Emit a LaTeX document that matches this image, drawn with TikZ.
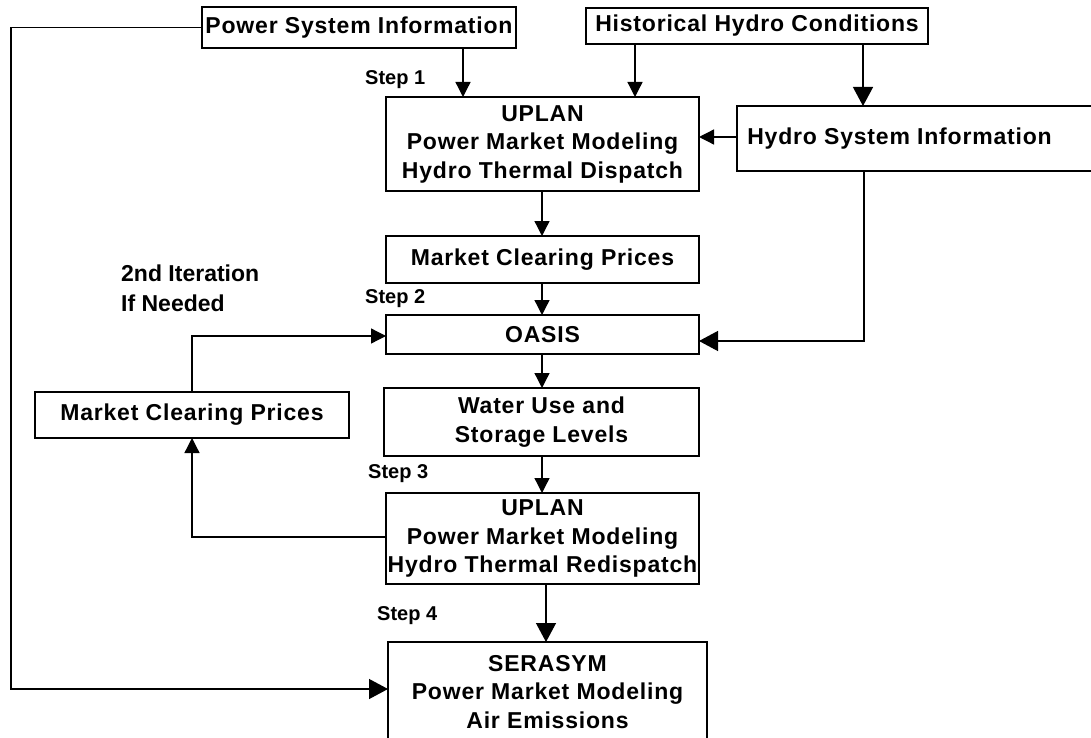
\documentclass[tikz,border=0pt]{standalone}
\usepackage{fontspec}
\setmainfont{Liberation Sans}
\newfontfamily\boxfont[LetterSpace=3.5]{Liberation Sans}
\usetikzlibrary{arrows.meta}
\begin{document}
\begin{tikzpicture}[x=1pt,y=-1pt,
  box/.style={draw,line width=1.8pt,rectangle,inner sep=0pt,outer sep=0pt,align=center,
    font=\boxfont\bfseries\fontsize{23}{28.5}\selectfont},
  conn/.style={line width=1.3pt},
  arrS/.style={conn,-{Triangle[length=15pt,width=15pt]}},
  arrL/.style={conn,-{Triangle[length=19pt,width=20pt]}},
  lbl/.style={font=\bfseries\fontsize{20}{24}\selectfont,inner sep=0pt},
  note/.style={font=\bfseries\fontsize{23}{30}\selectfont,inner sep=0pt,align=left},
]
\useasboundingbox (0,0) rectangle (1091,738);
\node[box,minimum width=314pt,minimum height=41pt] (psi) at (359,27.5) {Power System Information};
\node[box,minimum width=342pt,minimum height=36pt] (hhc) at (757,26) {Historical Hydro Conditions};
\node[box,minimum width=313pt,minimum height=94pt] (up1) at (542.5,144) {UPLAN\\Power Market Modeling\\Hydro Thermal Dispatch};
\node[box,minimum width=363pt,minimum height=65pt] (hsi) at (918.5,138.5) {Hydro System Information\hspace*{38pt}};
\node[box,minimum width=313pt,minimum height=47pt] (mcp1) at (542.5,259.5) {Market Clearing Prices};
\node[box,minimum width=313pt,minimum height=39pt] (oasis) at (542.5,334.5) {OASIS};
\node[box,minimum width=315pt,minimum height=68pt] (wu) at (541.5,422) {Water Use and\\Storage Levels};
\node[box,minimum width=314pt,minimum height=46pt] (mcp2) at (192,415) {Market Clearing Prices};
\node[box,minimum width=313pt,minimum height=91pt] (up2) at (542.5,538.5) {UPLAN\\Power Market Modeling\\Hydro Thermal Redispatch};
\node[box,minimum width=319pt,minimum height=100pt] (ser) at (547.5,692) {SERASYM\\Power Market Modeling\\Air Emissions};

\node[lbl,anchor=west] (s1) at (365,80) {Step 1};
\node[lbl,anchor=west] (s2) at (365,299) {Step 2};
\node[lbl,anchor=west] (s3) at (368,474) {Step 3};
\node[lbl,anchor=west] (s4) at (377,616) {Step 4};
\node[note,anchor=west] (iter) at (121,288) {2nd Iteration\\If Needed};

\draw[arrS] (463,0 |- psi.south) -- (463,0 |- up1.north);
\draw[arrS] (635,0 |- hhc.south) -- (635,0 |- up1.north);
\draw[arrL] (863,0 |- hhc.south) -- (863,0 |- hsi.north);
\draw[arrS] (hsi.west |- 0,137) -- (up1.east |- 0,137);
\draw[arrS] (542,0 |- up1.south) -- (542,0 |- mcp1.north);
\draw[arrS] (542,0 |- mcp1.south) -- (542,0 |- oasis.north);
\draw[arrL] (864,0 |- hsi.south) -- (864,341) -- (oasis.east |- 0,341);
\draw[arrS] (542,0 |- oasis.south) -- (542,0 |- wu.north);
\draw[arrS] (542,0 |- wu.south) -- (542,0 |- up2.north);
\draw[arrL] (546,0 |- up2.south) -- (546,0 |- ser.north);
\draw[arrS] (up2.west |- 0,537) -- (192,537) -- (mcp2.south);
\draw[arrS] (mcp2.north) -- (192,336) -- (oasis.west |- 0,336);
\draw[arrL] (psi.west) -- (11,27.5) -- (11,689) -- (ser.west |- 0,689);
\end{tikzpicture}
\end{document}
